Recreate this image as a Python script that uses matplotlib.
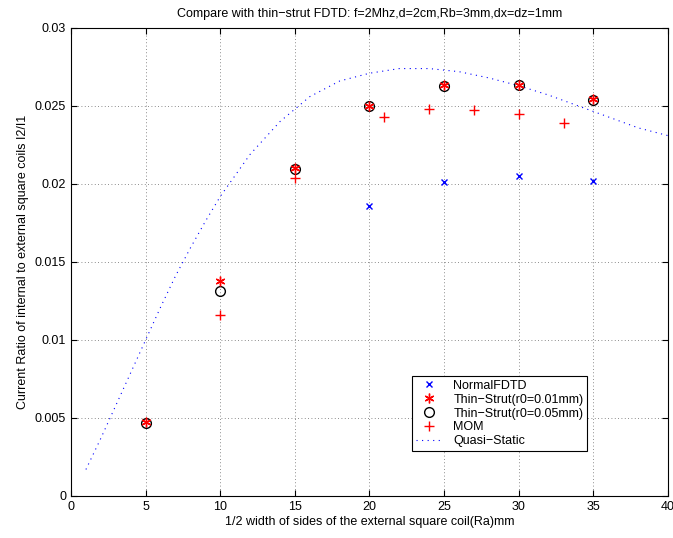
import numpy as np
import matplotlib
matplotlib.use('Agg')
import matplotlib.pyplot as plt

plt.rcParams['font.family'] = ['Liberation Sans', 'DejaVu Sans']

# data
x_fdtd = [20, 25, 30, 35]
y_fdtd = [0.01862, 0.02011, 0.02051, 0.02019]

x_thin = [5, 10, 15, 20, 25, 30, 35]
y_thin1 = [0.00472, 0.01379, 0.02104, 0.02501, 0.02634, 0.02634, 0.02543]
y_thin5 = [0.00468, 0.01314, 0.02098, 0.02500, 0.02630, 0.02632, 0.02540]

x_mom = [10, 15, 21, 24, 27, 30, 33]
y_mom = [0.01162, 0.02036, 0.02430, 0.02481, 0.02477, 0.02451, 0.02389]

x_qs = [1, 2, 3, 4, 5, 6, 7, 8, 9, 10, 12, 14, 16, 18, 20, 22, 24, 26, 28, 30, 32, 34, 36, 38, 40]
y_qs = [0.0017, 0.0037, 0.0058, 0.0079, 0.0100, 0.0121, 0.0141, 0.0159, 0.0176, 0.0192,
        0.0219, 0.0240, 0.0256, 0.0266, 0.0271, 0.0274, 0.0274, 0.0272, 0.0268, 0.0263,
        0.0257, 0.0250, 0.0243, 0.0236, 0.0231]

sparse_dot = (0, (1, 4))

fig = plt.figure(figsize=(6.73, 5.38), dpi=100)
ax = fig.add_axes([71/673, 1-496/538, 597/673, 468/538])

ax.plot(x_fdtd, y_fdtd, 'x', color='blue', ms=5, mew=1, zorder=3)
ax.plot(x_thin, y_thin5, 'o', mfc='none', mec='black', ms=7, mew=1, zorder=3)
ax.plot(x_thin, y_thin1, marker=(6, 2, 0), ls='none', color='red', ms=7, mew=1, zorder=4)
ax.plot(x_mom, y_mom, '+', color='red', ms=7, mew=1, zorder=3)
ax.plot(x_qs, y_qs, ls=sparse_dot, color='blue', lw=0.8)

# legend handles in the original order
h_fdtd = plt.Line2D([], [], marker='x', color='blue', ls='none', ms=5, mew=1)
h_t1 = plt.Line2D([], [], marker=(6, 2, 0), color='red', ls='none', ms=7, mew=1)
h_t5 = plt.Line2D([], [], marker='o', mfc='none', mec='black', ls='none', ms=7, mew=1)
h_mom = plt.Line2D([], [], marker='+', color='red', ls='none', ms=7, mew=1)
h_qs = plt.Line2D([], [], ls=sparse_dot, color='blue', lw=0.8)
leg = ax.legend([h_fdtd, h_t1, h_t5, h_mom, h_qs],
                ['NormalFDTD', 'Thin\u2212Strut(r0=0.01mm)', 'Thin\u2212Strut(r0=0.05mm)', 'MOM', 'Quasi\u2212Static'],
                loc='lower left', bbox_to_anchor=((412-71)/597, (496-451)/468),
                fontsize=9, fancybox=False, framealpha=1, edgecolor='black',
                borderpad=0.3, labelspacing=0.15, handlelength=2.2, handletextpad=0.8, borderaxespad=0)
leg.get_frame().set_linewidth(0.8)

ax.set_xlim(0, 40)
ax.set_ylim(0, 0.03)
ax.set_xticks(np.arange(0, 41, 5))
ax.set_yticks(np.arange(0, 0.0301, 0.005))
ax.set_yticklabels(['0', '0.005', '0.01', '0.015', '0.02', '0.025', '0.03'])
ax.tick_params(direction='in', top=True, right=True, labelsize=9, length=4)
ax.grid(True, ls=(0, (1, 3)), color='black', lw=0.6, alpha=0.6)

ax.set_xlabel('1/2 width of sides of the external square coil(Ra)mm', fontsize=9, labelpad=2)
ax.set_ylabel('Current Ratio of internal to external square coils I2/I1', fontsize=9, labelpad=4)
ax.set_title('Compare with thin\u2212strut FDTD: f=2Mhz,d=2cm,Rb=3mm,dx=dz=1mm', fontsize=9, pad=8)

fig.savefig('out.png', dpi=100)
